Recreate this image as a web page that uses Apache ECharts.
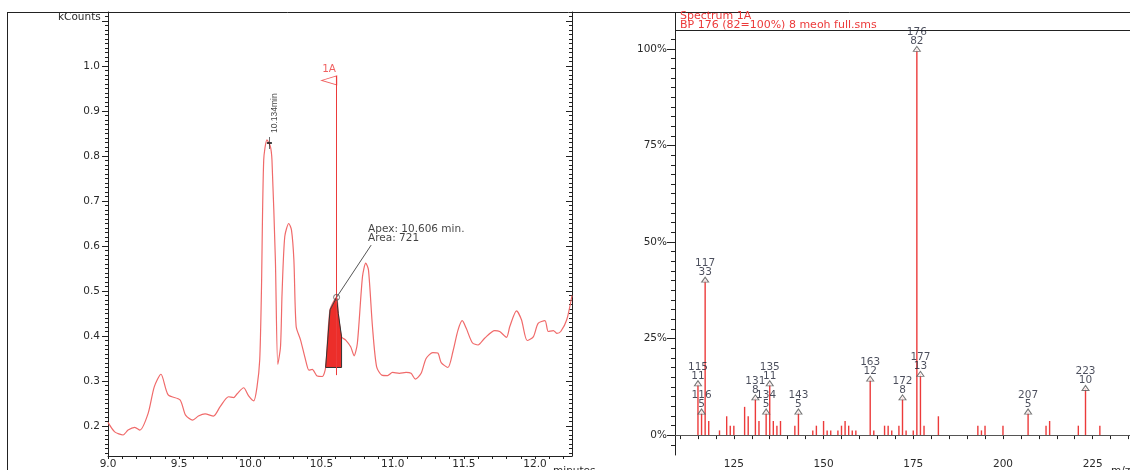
<!DOCTYPE html>
<html>
<head>
<meta charset="utf-8">
<script src="https://cdn.jsdelivr.net/npm/echarts@6/dist/echarts.min.js"></script>
<style>
  html, body { margin: 0; padding: 0; background: #fff; }
  #chart { width: 1130px; height: 470px; }
</style>
</head>
<body>
<div id="chart"></div>
<script>
// ---- Chromatogram (left) ----
const chromTime = [
  9.000, 9.047, 9.106, 9.141, 9.188, 9.224, 9.282, 9.325, 9.372, 9.423,
  9.506, 9.545, 9.595, 9.635, 9.682, 9.741, 9.788, 9.847, 9.882, 9.906,
  9.953, 9.988, 10.024, 10.047, 10.066, 10.078, 10.094, 10.117, 10.141, 10.152,
  10.176, 10.193, 10.212, 10.223, 10.242, 10.270, 10.289, 10.306, 10.322, 10.353,
  10.388, 10.412, 10.435, 10.470, 10.506, 10.529, 10.560, 10.606, 10.618, 10.641,
  10.670, 10.705, 10.729, 10.752, 10.788, 10.811, 10.830, 10.858, 10.887, 10.924,
  10.964, 10.999, 11.047, 11.094, 11.129, 11.160, 11.200, 11.235, 11.282, 11.317,
  11.341, 11.388, 11.423, 11.459, 11.489, 11.517, 11.560, 11.600, 11.646, 11.717,
  11.752, 11.800, 11.823, 11.870, 11.905, 11.945, 11.988, 12.022, 12.070, 12.093,
  12.129, 12.153, 12.181, 12.223, 12.260
];
const chromSignal = [
  0.208, 0.187, 0.180, 0.191, 0.197, 0.191, 0.228, 0.287, 0.315, 0.269,
  0.258, 0.224, 0.213, 0.222, 0.227, 0.222, 0.243, 0.265, 0.263, 0.271,
  0.285, 0.267, 0.256, 0.287, 0.347, 0.500, 0.791, 0.836, 0.821, 0.791,
  0.569, 0.337, 0.376, 0.495, 0.621, 0.650, 0.636, 0.569, 0.421, 0.391,
  0.347, 0.324, 0.326, 0.311, 0.310, 0.330, 0.458, 0.486, 0.450, 0.398,
  0.391, 0.376, 0.356, 0.384, 0.532, 0.562, 0.547, 0.421, 0.332, 0.313,
  0.312, 0.319, 0.317, 0.319, 0.317, 0.304, 0.317, 0.350, 0.363, 0.362,
  0.341, 0.330, 0.365, 0.413, 0.434, 0.417, 0.385, 0.380, 0.395, 0.412,
  0.410, 0.397, 0.421, 0.456, 0.436, 0.390, 0.398, 0.428, 0.434, 0.410,
  0.412, 0.406, 0.410, 0.436, 0.490
];
// integrated peak 1A
const areaTime = [10.529, 10.560, 10.606, 10.618, 10.641];
const areaSignal = [0.330, 0.458, 0.486, 0.450, 0.398];
const areaBaseline = 0.330;
const apexTime = 10.606;
const apexSignal = 0.486;
const apexArea = 721;
const markerTop = 0.978;
const markerBottom = 0.313;
const markerName = '1A';
const firstPeakTime = 10.134;
const firstPeakSignal = 0.829;
const leaderEnd = [10.849, 0.602];

const chromYMin = 0.1333, chromYMax = 1.12;
const chromXMin = 9.0, chromXMax = 12.26;
const chromYLabels = [0.2, 0.3, 0.4, 0.5, 0.6, 0.7, 0.8, 0.9, 1.0];
const chromYMajorTicks = [0.2, 0.3, 0.4, 0.5, 0.6, 0.7, 0.8, 0.9, 1.0, 1.1];
const chromXLabels = [9.0, 9.5, 10.0, 10.5, 11.0, 11.5, 12.0];

// ---- Mass spectrum (right) ----
const mzValues = [115, 116, 117, 118, 121, 123, 124, 125, 128, 129, 131, 132, 134, 135, 136, 137, 138,
  142, 143, 147, 148, 150, 151, 152, 154, 155, 156, 157, 158, 159, 163, 164, 167, 168, 169,
  171, 172, 173, 175, 176, 177, 178, 182, 193, 194, 195, 200, 207, 212, 213, 221, 223, 227];
const mzCounts = [11, 5, 33, 3, 1, 4, 2, 2, 6, 4, 8, 3, 5, 11, 3, 2, 3,
  2, 5, 1, 2, 3, 1, 1, 1, 2, 3, 2, 1, 1, 12, 1, 2, 2, 1,
  2, 8, 1, 1, 82, 13, 2, 4, 2, 1, 2, 2, 5, 2, 3, 2, 10, 2];
const labeledMz = [115, 116, 117, 131, 134, 135, 143, 163, 172, 176, 177, 207, 223];
const basePeakCounts = 82;
const specXMin = 108.6, specXMax = 235.4;
const specYMin = -5.15, specYMax = 104.9;
const specXLabels = [125, 150, 175, 200, 225];
const specYLabels = [0, 25, 50, 75, 100];
const spectrumTitle = 'Spectrum 1A\nBP 176 (82=100%) 8 meoh full.sms';

// ---- derived tick positions ----
const steps = (from, to, step, dec) => {
  const out = [];
  for (let v = from; v <= to + step / 2; v += step) out.push(+v.toFixed(dec));
  return out;
};
const chromYMinor = steps(0.14, 1.12, 0.01, 2);
const chromXTicks = steps(9.0, 12.2, 0.1, 1);
const specYMinor = steps(-2.5, 102.5, 2.5, 1);
const specXTicks = steps(110, 235, 5, 0);

const FONT = 'DejaVu Sans, Liberation Sans, Arial, sans-serif';
const AX = '#222';
const TXT = '#2a2a2a';
const RED = '#ec3a3a';

const pct = c => c / basePeakCounts * 100;
const spectrumData = mzValues.map((m, i) => [m, pct(mzCounts[i])]);
const labeledData = labeledMz.map(m => {
  const c = mzCounts[mzValues.indexOf(m)];
  return { value: [m, pct(c)], count: c };
});

const chart = echarts.init(document.getElementById('chart'), null, { renderer: 'canvas' });

const yBase = (grid, min, max, pos) => ({
  gridIndex: grid, type: 'value', min: min, max: max, position: pos,
  splitLine: { show: false }, axisLabel: { show: false },
  axisLine: { show: false }, axisTick: { show: false }
});

chart.setOption({
  animation: false,
  backgroundColor: '#fff',
  grid: [
    { left: 108, top: 12, width: 464, height: 444 },
    { left: 675, top: 30, right: 0, height: 427 }
  ],
  xAxis: [
    {
      gridIndex: 0, type: 'value', min: chromXMin, max: chromXMax,
      splitLine: { show: false },
      axisLine: { lineStyle: { color: AX, width: 1 } },
      axisTick: { customValues: chromXTicks, length: 3, lineStyle: { color: AX } },
      axisLabel: {
        customValues: chromXLabels, formatter: v => v.toFixed(1),
        margin: 3, fontSize: 10.5, fontFamily: FONT, color: TXT
      }
    },
    {
      gridIndex: 1, type: 'value', min: specXMin, max: specXMax,
      splitLine: { show: false },
      axisLine: { lineStyle: { color: AX, width: 1 } },
      axisTick: { customValues: specXTicks, length: 4, lineStyle: { color: AX } },
      axisLabel: {
        customValues: specXLabels, margin: 4, fontSize: 10.5, fontFamily: FONT, color: TXT
      }
    }
  ],
  yAxis: [
    Object.assign(yBase(0, chromYMin, chromYMax, 'left'), {
      axisLine: { show: true, lineStyle: { color: AX } },
      axisTick: { show: true, customValues: chromYMajorTicks, length: 6, lineStyle: { color: AX } },
      axisLabel: {
        show: true, customValues: chromYLabels, formatter: v => v.toFixed(1),
        margin: 8, fontSize: 10.5, fontFamily: FONT, color: TXT
      }
    }),
    Object.assign(yBase(0, chromYMin, chromYMax, 'left'), {
      axisTick: { show: true, customValues: chromYMinor, length: 3, lineStyle: { color: AX } }
    }),
    Object.assign(yBase(0, chromYMin, chromYMax, 'right'), {
      axisLine: { show: true, lineStyle: { color: AX } },
      axisTick: { show: true, inside: true, customValues: chromYMajorTicks, length: 6, lineStyle: { color: AX } }
    }),
    Object.assign(yBase(0, chromYMin, chromYMax, 'right'), {
      axisTick: { show: true, inside: true, customValues: chromYMinor, length: 3, lineStyle: { color: AX } }
    }),
    Object.assign(yBase(1, specYMin, specYMax, 'left'), {
      axisLine: { show: true, lineStyle: { color: AX } },
      axisTick: { show: true, customValues: specYLabels, length: 8, lineStyle: { color: AX } },
      axisLabel: {
        show: true, customValues: specYLabels, formatter: v => v + '%',
        margin: 8, fontSize: 10.5, fontFamily: FONT, color: TXT
      }
    }),
    Object.assign(yBase(1, specYMin, specYMax, 'left'), {
      axisTick: { show: true, customValues: specYMinor, length: 4, lineStyle: { color: AX } }
    })
  ],
  series: [
    {
      name: 'TIC', type: 'line', xAxisIndex: 0, yAxisIndex: 0,
      data: chromTime.map((t, i) => [t, chromSignal[i]]),
      showSymbol: false, smooth: 0.25, z: 2,
      lineStyle: { color: '#f06a6a', width: 1.2 },
      markLine: {
        silent: true, symbol: ['none', 'none'],
        lineStyle: { color: RED, width: 1, type: 'solid' },
        label: { show: false },
        data: [[{ coord: [apexTime, markerBottom] }, { coord: [apexTime, markerTop] }]]
      }
    },
    {
      name: 'area', type: 'custom', xAxisIndex: 0, yAxisIndex: 0, z: 3,
      data: [[apexTime, apexSignal]],
      renderItem: (params, api) => {
        const pts = areaTime.map((t, i) => api.coord([t, areaSignal[i]]));
        pts.push(api.coord([areaTime[areaTime.length - 1], areaBaseline]));
        pts.push(api.coord([areaTime[0], areaBaseline]));
        return {
          type: 'polygon', shape: { points: pts },
          style: { fill: '#ec2e2a', stroke: '#333', lineWidth: 1 }
        };
      }
    },
    {
      name: 'flag', type: 'scatter', xAxisIndex: 0, yAxisIndex: 0, z: 4,
      data: [[apexTime, markerTop]],
      symbol: 'path://M15,0 L15,9 L0,4.5 Z', symbolSize: [15, 9], symbolOffset: [-7.5, 4.5],
      itemStyle: { color: '#fff', borderColor: RED, borderWidth: 1 },
      label: {
        show: true, formatter: markerName, position: 'top', distance: 1,
        fontSize: 10.5, fontFamily: FONT, color: RED
      }
    },
    {
      name: 'first', type: 'scatter', xAxisIndex: 0, yAxisIndex: 0, z: 4,
      data: [[firstPeakTime, firstPeakSignal]],
      symbol: 'path://M2.5,0 L2.5,12 M0,6 L5,6', symbolSize: [5, 12],
      itemStyle: { color: 'none', borderColor: '#111', borderWidth: 1.2 },
      label: {
        show: true, formatter: firstPeakTime.toFixed(3) + 'min', rotate: 90,
        position: [9, 0], align: 'left', verticalAlign: 'middle',
        fontSize: 8.5, fontFamily: 'Liberation Sans, Arial, sans-serif', color: '#111'
      }
    },
    {
      name: 'apex', type: 'scatter', xAxisIndex: 0, yAxisIndex: 0, z: 5,
      data: [[apexTime, apexSignal]],
      symbol: 'circle', symbolSize: 6,
      itemStyle: { color: 'rgba(255,255,255,0)', borderColor: '#555', borderWidth: 1 },
      label: {
        show: true,
        formatter: 'Apex: ' + apexTime.toFixed(3) + ' min.\nArea: ' + apexArea,
        position: [35, -69], align: 'left', verticalAlign: 'top', lineHeight: 9,
        fontSize: 10.5, fontFamily: FONT, color: '#111'
      },
      markLine: {
        silent: true, symbol: ['none', 'none'],
        lineStyle: { color: '#555', width: 1, type: 'solid' },
        label: { show: false },
        data: [[{ coord: [apexTime, apexSignal] }, { coord: leaderEnd }]]
      }
    },
    {
      name: 'spectrum', type: 'custom', xAxisIndex: 1, yAxisIndex: 4, z: 2,
      data: spectrumData,
      renderItem: (params, api) => {
        const top = api.coord([api.value(0), api.value(1)]);
        const base = api.coord([api.value(0), 0]);
        return {
          type: 'line',
          shape: { x1: top[0], y1: top[1], x2: base[0], y2: base[1] },
          style: { stroke: RED, lineWidth: 1.4 }
        };
      }
    },
    {
      name: 'labels', type: 'scatter', xAxisIndex: 1, yAxisIndex: 4, z: 4,
      data: labeledData,
      symbol: 'triangle', symbolSize: [7, 5],
      itemStyle: { color: '#fff', borderColor: '#555', borderWidth: 1 },
      label: {
        show: true, position: 'top', distance: 0, lineHeight: 9,
        formatter: p => p.value[0] + '\n' + p.data.count,
        fontSize: 10.5, fontFamily: FONT, color: '#1e2233'
      },
      markLine: {
        silent: true, symbol: ['none', 'none'],
        lineStyle: { color: '#555', width: 1, type: 'solid' },
        label: { show: false },
        data: [{ yAxis: 0 }]
      }
    }
  ],
  graphic: [
    { type: 'line', shape: { x1: 7, y1: 12.5, x2: 1130, y2: 12.5 }, style: { stroke: '#222', lineWidth: 1 }, silent: true },
    { type: 'line', shape: { x1: 7.5, y1: 12, x2: 7.5, y2: 470 }, style: { stroke: '#222', lineWidth: 1 }, silent: true },
    { type: 'line', shape: { x1: 675.5, y1: 12, x2: 675.5, y2: 30 }, style: { stroke: '#222', lineWidth: 1 }, silent: true },
    { type: 'line', shape: { x1: 675, y1: 30.5, x2: 1130, y2: 30.5 }, style: { stroke: '#222', lineWidth: 1 }, silent: true },
    { type: 'text', left: 58, top: 12, style: { text: 'kCounts', fontSize: 10.5, fontFamily: FONT, fill: TXT } },
    { type: 'text', left: 680, top: 11, style: { text: spectrumTitle, fontSize: 11, lineHeight: 9, fontFamily: FONT, fill: RED } },
    { type: 'text', left: 553, top: 466, style: { text: 'minutes', fontSize: 10.5, fontFamily: FONT, fill: TXT } },
    { type: 'text', left: 1111, top: 466, style: { text: 'm/z', fontSize: 10.5, fontFamily: FONT, fill: TXT } }
  ]
});
</script>
</body>
</html>
